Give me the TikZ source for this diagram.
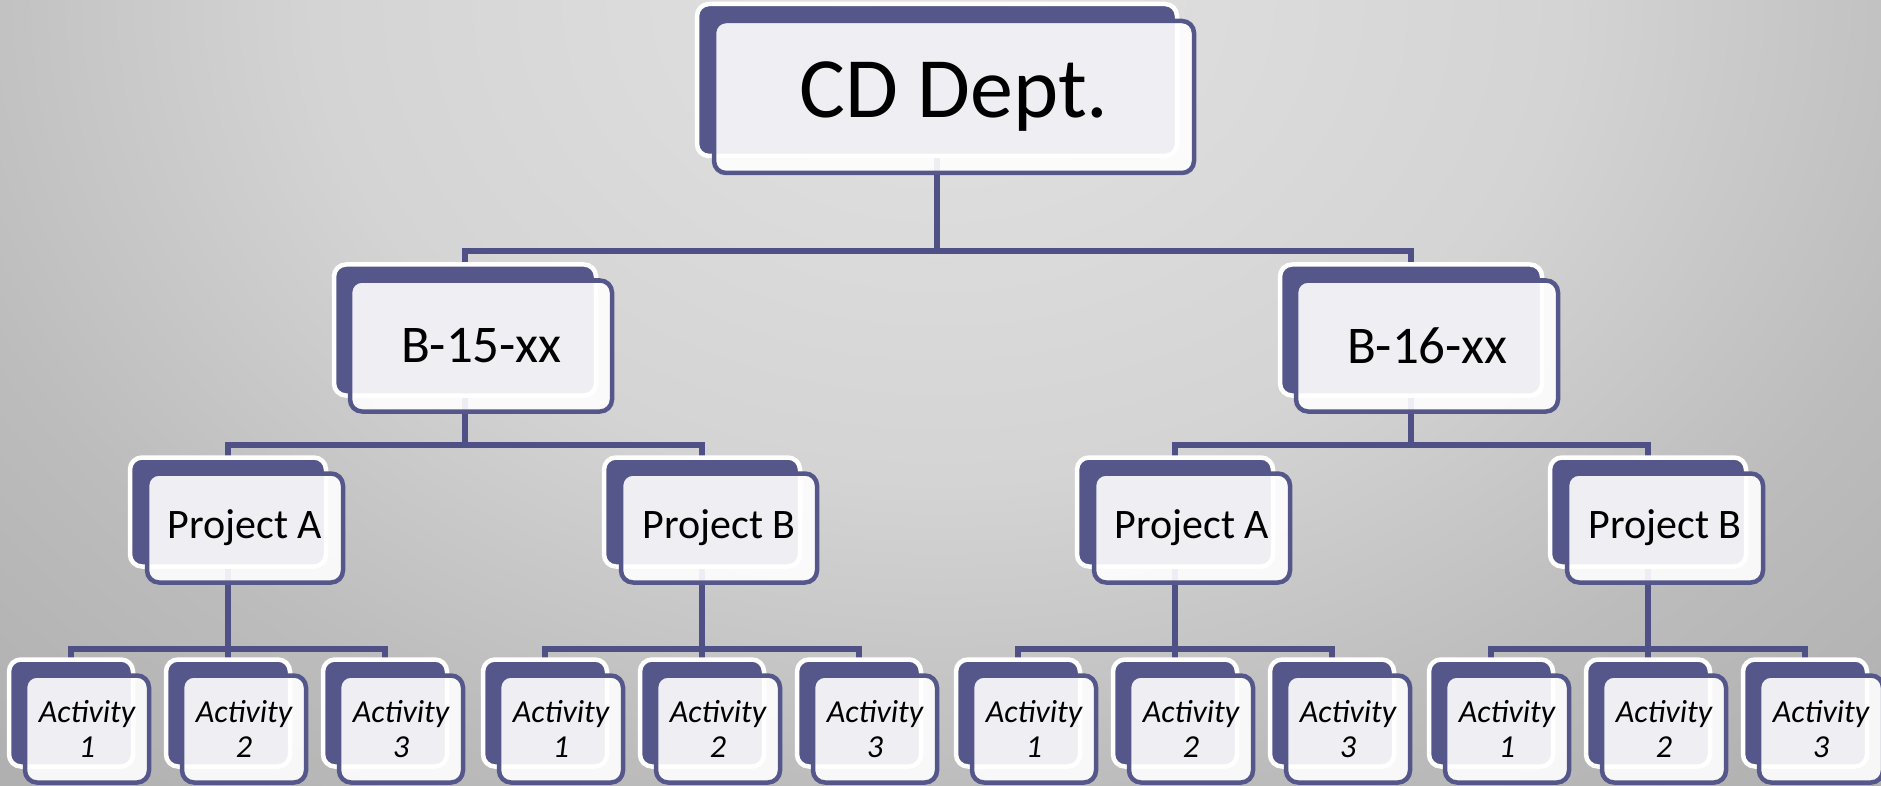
\documentclass[tikz,border=0pt]{standalone}
\usepackage{fontspec}
\setmainfont{Carlito}
\usetikzlibrary{backgrounds}
\definecolor{deptblue}{RGB}{85,87,139}
\definecolor{linkblue}{RGB}{78,80,134}
\definecolor{bgA}{RGB}{226,226,226}
\definecolor{bgB}{RGB}{212,212,212}
\definecolor{bgC}{RGB}{188,188,188}
\definecolor{bgD}{RGB}{160,160,160}
\definecolor{bgE}{RGB}{140,140,140}
\definecolor{bgF}{RGB}{134,134,134}
\pgfdeclareradialshading{bgglow}{\pgfpointorigin}{color(0bp)=(bgA); color(12bp)=(bgB); color(20bp)=(bgC); color(35bp)=(bgD); color(46bp)=(bgE); color(50bp)=(bgF)}
\begin{document}
\begin{tikzpicture}[x=1pt,y=-1pt,
  back/.style={draw=white,line width=4.5pt,fill=deptblue,rounded corners=12pt,inner sep=0pt},
  front/.style={draw=deptblue,line width=4.5pt,fill=white,fill opacity=0.9,text opacity=1,rounded corners=12pt,inner sep=0pt,align=center},
  link/.style={draw=linkblue,line width=5.5pt},
  dept/.style={minimum width=480pt,minimum height=152pt},
  batch/.style={minimum width=262pt,minimum height=131pt},
  proj/.style={minimum width=196pt,minimum height=109pt},
  act/.style={minimum width=124pt,minimum height=107pt}]
\useasboundingbox (0,0) rectangle (1881,786);
% top
\node[back,dept] (cd-b) at (937,80) {};
\node[front,dept,font=\fontsize{86}{100}\selectfont] (cd) at (954,97) {CD Dept.};
% batches
\node[back,batch] (b15-b) at (465,330) {};
\node[front,batch,font=\fontsize{53}{60}\selectfont] (b15) at (481,346) {B-15-xx};
\node[back,batch] (b16-b) at (1411,330) {};
\node[front,batch,font=\fontsize{53}{60}\selectfont] (b16) at (1427,346) {B-16-xx};
% projects and activities
\foreach \x/\n/\t in {228/pa1/Project A,702/pb1/Project B,1175/pa2/Project A,1648/pb2/Project B}{
  \node[back,proj] (\n-b) at (\x,512) {};
  \node[front,proj,font=\fontsize{42}{48}\selectfont] (\n) at (\x+17,528) {\t};
  \foreach \i in {1,2,3}{
    \node[back,act] (\n-a\i-b) at ({\x+(\i-2)*157},713) {};
    \node[front,act,font=\fontsize{32}{35}\selectfont\itshape] (\n-a\i) at ({\x+(\i-2)*157+16},729) {Activity\\\i};
  }
}
\coordinate (bus1) at (0,251);
\coordinate (bus2) at (0,445);
\coordinate (bus3) at (0,649);
\begin{scope}[on background layer]
  \clip (0,0) rectangle (1881,786);
  \fill[shading=bgglow] (-360,-1000) rectangle (2240,1000);
  \draw[link] (cd-b.center) -- (cd-b.center |- bus1) -| (b15-b.center);
  \draw[link] (cd-b.center |- bus1) -| (b16-b.center);
  \draw[link] (b15-b.center) -- (b15-b.center |- bus2) -| (pa1-b.center);
  \draw[link] (b15-b.center |- bus2) -| (pb1-b.center);
  \draw[link] (b16-b.center) -- (b16-b.center |- bus2) -| (pa2-b.center);
  \draw[link] (b16-b.center |- bus2) -| (pb2-b.center);
  \foreach \n in {pa1,pb1,pa2,pb2}{
    \draw[link] (\n-b.center) -- (\n-a2-b.center);
    \draw[link] (\n-a1-b.center) |- (\n-b.center |- bus3) -| (\n-a3-b.center);
  }
\end{scope}
\end{tikzpicture}
\end{document}
